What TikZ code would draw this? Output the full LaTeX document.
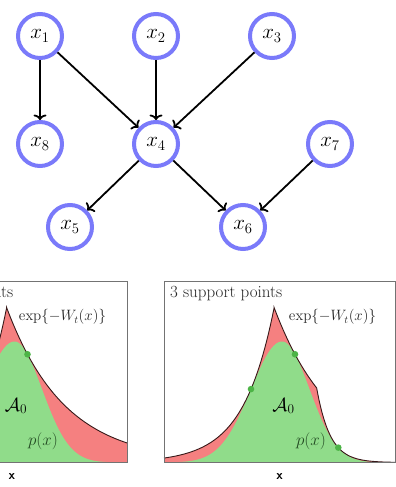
\RequirePackage{fix-cm}
\documentclass[tikz,border=0pt]{standalone}
\usetikzlibrary{arrows.meta}
\definecolor{nodeblue}{RGB}{122,122,250}
\definecolor{redfill}{RGB}{245,128,128}
\definecolor{greenfill}{RGB}{144,220,138}
\definecolor{dotgreen}{RGB}{76,180,70}
\definecolor{envcol}{RGB}{55,25,25}
\definecolor{pxcol}{RGB}{35,75,35}
\tikzset{
  gnode/.style={circle,draw=nodeblue,line width=4pt,fill=white,minimum size=44pt,inner sep=0pt,
    font=\fontsize{21}{24}\selectfont},
  edge/.style={line width=1.8pt,-{To[length=5.5pt,width=13pt,line width=1.8pt]}},
  panelbox/.style={draw=black!55,line width=0.9pt},
  envline/.style={draw=envcol,line width=0.9pt},
  titlelabel/.style={font=\fontsize{17}{20}\selectfont,inner sep=0pt,text=black!85},
  ptlabel/.style={font=\fontsize{15}{18}\selectfont,inner sep=0pt,text=black!85},
  pxlabel/.style={font=\fontsize{17}{20}\selectfont,inner sep=0pt,text=pxcol},
  bigA/.style={font=\fontsize{19}{22}\selectfont,inner sep=0pt},
  axlabel/.style={font=\fontsize{13}{15}\selectfont\sffamily\bfseries,inner sep=0pt},
  supdot/.style={fill=dotgreen},
  declare function={
    eA(\u)=exp(4.296+0.03226*(\u-87));
    eB(\u)=exp(4.684-0.01719*(\u-131));
    eC(\u)=exp(2.700-0.07445*(\u-174.3));
    pL(\u)=121*exp(-(\u-118)*(\u-118)/1922);
    pR(\u)=121*exp(-(\u-118)*(\u-118)/1512.5);
  }
}
\begin{document}
\begin{tikzpicture}[x=1pt,y=-1pt]
\useasboundingbox (0,0) rectangle (396,487);
\clip (0,0) rectangle (396,487);

% ---------- graph ----------
\node[gnode] (x1) at (40,36) {$x_1$};
\node[gnode] (x2) at (156,36) {$x_2$};
\node[gnode] (x3) at (272,36) {$x_3$};
\node[gnode] (x8) at (40,144) {$x_8$};
\node[gnode] (x4) at (156,144) {$x_4$};
\node[gnode] (x7) at (330,144) {$x_7$};
\node[gnode] (x5) at (70,227) {$x_5$};
\node[gnode] (x6) at (243,227) {$x_6$};
\draw[edge] (x1) -- (x8);
\draw[edge] (x1) -- (x4);
\draw[edge] (x2) -- (x4);
\draw[edge] (x3) -- (x4);
\draw[edge] (x4) -- (x5);
\draw[edge] (x4) -- (x6);
\draw[edge] (x7) -- (x6);

% ---------- left panel (2 support points) ----------
\begin{scope}[shift={(-103.5,0)}]
  \fill[redfill] (0,462.5) -- plot[domain=0:110.1,samples=60] (\x,{462.5-eA(\x)})
     -- plot[domain=110.1:231,samples=80] (\x,{462.5-eB(\x)}) -- (231,462.5) -- cycle;
  \fill[greenfill] (0,462.5) -- plot[domain=0:118,samples=70] (\x,{462.5-pL(\x)})
     -- plot[domain=118:231,samples=70] (\x,{462.5-pR(\x)}) -- (231,462.5) -- cycle;
  \draw[envline] plot[domain=0:110.1,samples=60] (\x,{462.5-eA(\x)})
     -- plot[domain=110.1:231,samples=80] (\x,{462.5-eB(\x)});
  \fill[supdot] (87,{462.5-pL(87)}) circle (3.3pt);
  \fill[supdot] (131,{462.5-pR(131)}) circle (3.3pt);
  \draw[panelbox] (0,281.7) rectangle (231,462.5);
  \node[titlelabel,anchor=base east] (t1) at (117,297.3) {2 support points};
  \node[ptlabel] (e1) at (166,317) {$\exp\{-W_t(x)\}$};
  \node[bigA] (a1) at (119.5,406) {$\mathcal{A}_0$};
  \node[pxlabel] (p1) at (146.5,441) {$p(x)$};
  \node[axlabel] (xl1) at (115.5,476.5) {x};
\end{scope}

% ---------- right panel (3 support points) ----------
\begin{scope}[shift={(164,0)}]
  \fill[redfill] (0,462.5) -- plot[domain=0:110.1,samples=60] (\x,{462.5-eA(\x)})
     -- plot[domain=110.1:152.7,samples=30] (\x,{462.5-eB(\x)})
     -- plot[domain=152.7:231,samples=60] (\x,{462.5-eC(\x)}) -- (231,462.5) -- cycle;
  \fill[greenfill] (0,462.5) -- plot[domain=0:118,samples=70] (\x,{462.5-pL(\x)})
     -- plot[domain=118:231,samples=70] (\x,{462.5-pR(\x)}) -- (231,462.5) -- cycle;
  \draw[envline] plot[domain=0:110.1,samples=60] (\x,{462.5-eA(\x)})
     -- plot[domain=110.1:152.7,samples=30] (\x,{462.5-eB(\x)})
     -- plot[domain=152.7:231,samples=60] (\x,{462.5-eC(\x)});
  \fill[supdot] (87,{462.5-pL(87)}) circle (3.3pt);
  \fill[supdot] (131,{462.5-pR(131)}) circle (3.3pt);
  \fill[supdot] (174.3,{462.5-pR(174.3)}) circle (3.3pt);
  \draw[panelbox] (0,281.7) rectangle (231,462.5);
  \node[titlelabel,anchor=base west] (t2) at (6,297.3) {3 support points};
  \node[ptlabel] (e2) at (168.5,317) {$\exp\{-W_t(x)\}$};
  \node[bigA] (a2) at (119.5,406) {$\mathcal{A}_0$};
  \node[pxlabel] (p2) at (147,441) {$p(x)$};
  \node[axlabel] (xl2) at (115.5,476.5) {x};
\end{scope}
\end{tikzpicture}
\end{document}
